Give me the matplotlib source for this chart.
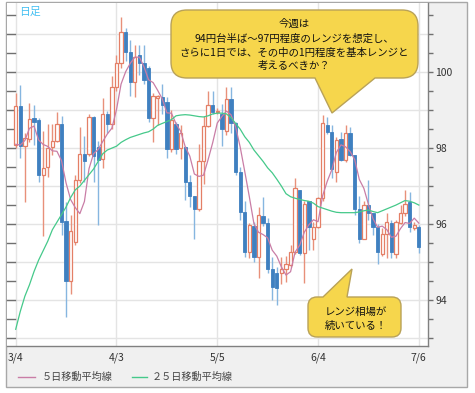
import matplotlib
matplotlib.use("Agg")
import matplotlib.pyplot as plt
import numpy as np
from matplotlib.patches import Rectangle, PathPatch
from matplotlib.path import Path
from matplotlib.lines import Line2D

plt.rcParams['font.family'] = ['Noto Sans CJK JP', 'DejaVu Sans']

# ---------------- data ----------------
opens = [98.09, 99.11, 98.06, 98.25, 98.78, 98.75, 97.28, 97.49, 98.03, 98.18,
         98.64, 96.07, 94.51, 95.52, 97.15, 97.84, 97.84, 98.83, 98.04, 97.71,
         98.90, 98.64, 99.60, 100.23, 101.05, 100.52, 99.74, 100.46, 100.25, 100.10,
         98.80, 99.33, 99.35, 99.22, 97.97, 98.64, 98.00, 98.02, 97.12, 96.73,
         96.39, 97.65, 98.57, 99.14, 98.96, 98.91, 98.45, 99.30, 98.67, 97.38,
         96.32, 95.27, 95.95, 95.12, 96.21, 96.02, 94.83, 94.72, 94.72, 94.83,
         94.92, 95.27, 96.91, 95.23, 96.60, 95.62, 95.93, 96.68, 98.62, 98.43,
         97.38, 98.23, 97.68, 98.39, 97.82, 96.39, 95.62, 96.50, 96.28, 95.93,
         95.21, 95.75, 96.02, 95.20, 96.02, 96.28, 96.59, 95.89, 95.93]
highs = [99.46, 99.66, 98.40, 99.18, 99.14, 98.78, 98.46, 98.64, 98.64, 98.96,
         98.85, 96.59, 96.25, 97.30, 98.55, 98.32, 98.90, 98.85, 98.20, 99.32,
         98.97, 99.89, 100.45, 101.46, 101.15, 100.85, 100.72, 100.72, 100.72, 100.15,
         99.44, 99.40, 99.70, 99.35, 98.99, 98.68, 98.60, 98.05, 97.30, 96.73,
         98.10, 98.85, 99.50, 99.50, 99.05, 99.17, 99.60, 99.60, 98.70, 97.50,
         96.60, 96.02, 96.05, 96.45, 96.70, 96.16, 95.12, 94.88, 95.12, 95.15,
         95.45, 97.20, 96.91, 96.62, 96.60, 96.06, 96.72, 98.87, 98.82, 98.60,
         98.30, 98.43, 98.60, 98.55, 97.82, 96.74, 96.62, 97.16, 96.30, 96.00,
         95.90, 96.30, 96.10, 96.10, 96.50, 96.90, 96.85, 96.05, 95.97]
lows = [98.00, 97.74, 96.57, 98.15, 98.09, 97.10, 95.68, 97.25, 97.82, 98.15,
        95.71, 93.56, 94.16, 95.45, 97.08, 97.10, 97.80, 97.10, 95.98, 97.47,
        98.40, 98.50, 99.50, 100.10, 100.30, 99.36, 99.35, 99.92, 99.70, 98.70,
        98.17, 98.60, 98.90, 97.73, 97.90, 97.85, 97.70, 96.64, 96.46, 95.62,
        96.35, 97.05, 98.55, 98.90, 98.90, 98.05, 98.35, 98.40, 97.30, 96.10,
        95.14, 95.10, 95.00, 94.57, 95.95, 94.70, 94.00, 93.88, 94.42, 94.47,
        94.87, 95.22, 95.18, 94.45, 95.32, 95.32, 95.90, 96.60, 98.38, 97.20,
        97.10, 97.66, 97.64, 97.78, 96.24, 95.49, 95.60, 96.10, 95.72, 94.96,
        95.15, 95.10, 95.10, 95.10, 96.00, 96.20, 95.80, 95.85, 95.25]
closes = [99.11, 98.06, 98.26, 98.77, 98.70, 97.28, 97.47, 98.00, 98.19, 98.64,
          96.05, 94.51, 95.82, 97.15, 97.84, 97.65, 98.83, 97.80, 97.69, 98.90,
          98.64, 99.60, 100.23, 101.06, 100.52, 99.74, 100.41, 100.25, 99.80, 98.80,
          99.36, 99.38, 99.13, 97.97, 98.75, 97.97, 98.40, 97.10, 96.73, 96.39,
          97.65, 98.57, 99.14, 98.96, 98.98, 98.50, 99.30, 98.65, 97.38, 96.32,
          95.27, 95.97, 95.12, 96.24, 96.02, 94.83, 94.35, 94.33, 94.83, 94.95,
          95.27, 96.94, 95.23, 96.54, 95.93, 95.93, 96.68, 98.65, 98.43, 97.46,
          98.21, 97.68, 98.39, 97.82, 96.39, 95.60, 96.50, 96.28, 95.93, 95.27,
          95.75, 96.05, 95.27, 96.06, 96.28, 96.54, 95.93, 95.97, 95.40]

# first four 5-day MA values (depend on data before 3/4)
ma5_head = [98.10, 98.08, 98.20, 98.52]
# 25-day moving average
ma25 = [93.23, 93.70, 94.10, 94.40, 94.75, 95.05, 95.30, 95.55, 95.85, 96.05,
        96.25, 96.45, 96.70, 96.90, 97.00, 97.15, 97.30, 97.45, 97.65, 97.85,
        97.95, 98.00, 98.05, 98.15, 98.22, 98.28, 98.32, 98.36, 98.40, 98.43,
        98.50, 98.60, 98.65, 98.70, 98.75, 98.85, 98.87, 98.88, 98.87, 98.85,
        98.83, 98.82, 98.85, 98.90, 98.92, 98.92, 98.90, 98.80, 98.65, 98.50,
        98.30, 98.15, 97.95, 97.80, 97.65, 97.48, 97.35, 97.18, 97.00, 96.80,
        96.72, 96.68, 96.65, 96.62, 96.60, 96.55, 96.46, 96.42, 96.38, 96.34,
        96.31, 96.30, 96.30, 96.30, 96.30, 96.32, 96.35, 96.37, 96.33, 96.30,
        96.35, 96.40, 96.45, 96.50, 96.56, 96.62, 96.60, 96.56, 96.50]

date_pos = [0, 22, 44, 66, 88]
date_labels = ['3/4', '4/3', '5/5', '6/4', '7/6']
price_ticks = [94, 96, 98, 100]

legend_labels = ['５日移動平均線', '２５日移動平均線']
corner_label = '日足'
callout1_lines = ['今週は', '94円台半ば～97円程度のレンジを想定し、',
                  'さらに1日では、その中の1円程度を基本レンジと', '考えるべきか？']
callout2_lines = ['レンジ相場が', '続いている！']

# ---------------- figure ----------------
W, H = 475, 393
fig = plt.figure(figsize=(W / 100, H / 100), dpi=100)
fig.patch.set_facecolor('white')


def fx(x):
    return x / W


def fy(y):
    return 1 - y / H


frame = Rectangle((fx(6), fy(387)), (467 - 6) / W, (387 - 2) / H,
                  transform=fig.transFigure, facecolor='#F0F0F0',
                  edgecolor='#A8A8A8', lw=1.0, zorder=0)
fig.add_artist(frame)

ax = fig.add_axes([fx(7), fy(346), (428 - 7) / W, (346 - 3) / H])
ax.set_facecolor('white')
ax.set_zorder(1)

n = len(closes)
idx = np.arange(n)

ax.set_xlim(-1.9, 90.0)
ax.set_ylim(92.79, 101.82)

# grid
for p in range(93, 102):
    ax.axhline(p, color='#E4E4E4', lw=1.0, zorder=0)
for d in date_pos:
    ax.axvline(d, color='#E4E4E4', lw=1.0, zorder=0)

# left inward ticks
ytr = ax.get_yaxis_transform()
for p in np.arange(93.0, 101.6, 0.5):
    ax.plot([0, 8 / 421], [p, p], color='#707070', lw=1.0, transform=ytr,
            clip_on=False, zorder=3)

# candles
red_edge = '#E47F66'
red_wick = '#E8907A'
blue_face = '#3F80C0'
blue_wick = '#86B6E0'
bw = 0.72
for i in idx:
    o, h, l, c = opens[i], highs[i], lows[i], closes[i]
    up = c >= o
    ax.vlines(i, l, h, color=red_wick if up else blue_wick, lw=1.0, zorder=2)
    lo = min(o, c)
    hgt = max(abs(c - o), 0.02)
    if up:
        ax.add_patch(Rectangle((i - bw / 2, lo), bw, hgt, facecolor='white',
                               edgecolor=red_edge, lw=0.9, zorder=3))
    else:
        ax.add_patch(Rectangle((i - bw / 2, lo), bw, hgt, facecolor=blue_face,
                               edgecolor=blue_face, lw=0.6, zorder=3))

# moving averages
cl = np.array(closes)
ma5 = list(ma5_head) + [cl[k - 4:k + 1].mean() for k in range(4, n)]
ax.plot(idx, ma5, color='#C97DA6', lw=0.9, zorder=4)
ax.plot(idx, ma25, color='#45C98A', lw=0.9, zorder=4)

# axes styling
for s in ['left', 'top']:
    ax.spines[s].set_visible(False)
for s in ['right', 'bottom']:
    ax.spines[s].set_color('#808080')
    ax.spines[s].set_linewidth(1.0)

ax.yaxis.tick_right()
yt = list(np.arange(93.0, 101.6, 0.5))
ax.set_yticks(yt)
ax.set_yticklabels([str(int(v)) if v in price_ticks else '' for v in yt])
ax.tick_params(axis='y', which='both', direction='out', length=3.8, width=1.0,
               color='#707070', labelsize=7.5, labelcolor='#333333', pad=1.5)
ax.set_xticks(date_pos)
ax.set_xticklabels(date_labels)
ax.tick_params(axis='x', length=0, labelsize=7.5, labelcolor='#333333', pad=4.5)

# corner label
fig.text(fx(19), fy(12), corner_label, color='#45C0F2', fontsize=7.8,
         ha='left', va='center', zorder=5)


# callouts
def rounded_callout(x0, y0, x1, y1, r, tail, tail_side):
    verts, codes = [], []

    def mv(p):
        verts.append(p); codes.append(Path.MOVETO)

    def ln(p):
        verts.append(p); codes.append(Path.LINETO)

    def cv(c, p):
        verts.extend([c, p]); codes.extend([Path.CURVE3, Path.CURVE3])

    tl, ap, tr = tail
    mv((x0 + r, y0))
    if tail_side == 'top':
        ln((tl, y0)); ln(ap); ln((tr, y0))
    ln((x1 - r, y0))
    cv((x1, y0), (x1, y0 + r))
    ln((x1, y1 - r))
    cv((x1, y1), (x1 - r, y1))
    if tail_side == 'bottom':
        ln((tr, y1)); ln(ap); ln((tl, y1))
    ln((x0 + r, y1))
    cv((x0, y1), (x0, y1 - r))
    ln((x0, y0 + r))
    cv((x0, y0), (x0 + r, y0))
    verts.append((x0 + r, y0)); codes.append(Path.CLOSEPOLY)
    verts = [(fx(a), fy(b)) for a, b in verts]
    return Path(verts, codes)


yellow = '#F6D64C'
yedge = '#B9A258'
p1 = rounded_callout(171, 10, 418, 78, 16, (315, (332, 113), 375), 'bottom')
fig.add_artist(PathPatch(p1, transform=fig.transFigure, facecolor=yellow,
                         edgecolor=yedge, lw=1.0, zorder=6))
for k, (t, yy) in enumerate(zip(callout1_lines, [24, 39, 53, 66])):
    fig.text(fx(294), fy(yy), t, fontsize=7.5, color='#111111', ha='center',
             va='center', zorder=7)

p2 = rounded_callout(308, 297, 401, 337, 9, (323, (352, 269), 347), 'top')
fig.add_artist(PathPatch(p2, transform=fig.transFigure, facecolor=yellow,
                         edgecolor=yedge, lw=1.0, zorder=6))
for t, yy in zip(callout2_lines, [312, 326]):
    fig.text(fx(356), fy(yy), t, fontsize=7.5, color='#111111', ha='center',
             va='center', zorder=7)

# legend
ly = 377
fig.add_artist(Line2D([fx(18), fx(35)], [fy(ly), fy(ly)], color='#C97DA6',
                      lw=1.0, transform=fig.transFigure, zorder=5))
fig.text(fx(42), fy(ly), legend_labels[0], fontsize=7.3, color='#444444',
         ha='left', va='center', zorder=5)
fig.add_artist(Line2D([fx(132), fx(147)], [fy(ly), fy(ly)], color='#45C98A',
                      lw=1.0, transform=fig.transFigure, zorder=5))
fig.text(fx(152), fy(ly), legend_labels[1], fontsize=7.3, color='#444444',
         ha='left', va='center', zorder=5)

fig.savefig('out.png', dpi=100)
